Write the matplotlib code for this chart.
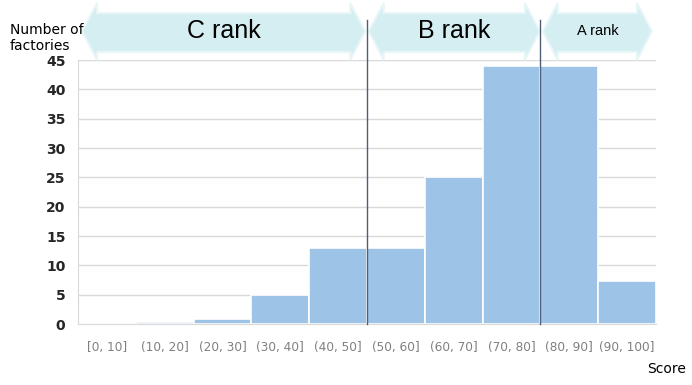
import matplotlib.pyplot as plt
import matplotlib.transforms as mtransforms
from matplotlib.patches import Polygon

# data
bin_labels = ["[0, 10]", "(10, 20]", "(20, 30]", "(30, 40]", "(40, 50]",
              "(50, 60]", "(60, 70]", "(70, 80]", "(80, 90]", "(90, 100]"]
bin_left = [0, 10, 20, 30, 40, 50, 60, 70, 80, 90]
factories = [0, 0.3, 0.9, 5, 13, 13, 25, 44, 44, 7.4]
rank_names = ["C rank", "B rank", "A rank"]
rank_start = [0.7, 50.3, 80.4]
rank_end = [49.7, 79.9, 99.3]
rank_fontsize = [18, 18, 10.5]
rank_lines = [50, 80]

fig = plt.figure(figsize=(6.92, 3.85), dpi=100)
ax = fig.add_axes([0.1127, 0.1584, 0.948 - 0.1127, 0.844 - 0.1584])

ax.bar(bin_left, factories, width=10, align="edge", color="#9dc3e6",
       edgecolor="white", linewidth=1.2, zorder=2)

ax.set_xlim(0, 100)
ax.set_ylim(0, 45)
ax.set_yticks(range(0, 46, 5))
ax.set_xticks([b + 5 for b in bin_left])
ax.set_xticklabels(bin_labels)
ax.tick_params(axis="x", length=0, pad=12, labelsize=8.7, labelcolor="#808080")
ax.tick_params(axis="y", length=0, pad=9, labelsize=10)
for t in ax.get_yticklabels():
    t.set_fontweight("bold")
    t.set_color("#262626")

ax.grid(axis="y", color="#d9d9d9", linewidth=1, zorder=0)
for side in ["top", "right"]:
    ax.spines[side].set_visible(False)
for side in ["left", "bottom"]:
    ax.spines[side].set_color("#d9d9d9")

# rank arrows above the plot
trans = mtransforms.blended_transform_factory(ax.transData, fig.transFigure)
head_top, body_top, mid, body_bot, head_bot = 0.992, 0.966, 0.919, 0.865, 0.844
head_len = 2.6
for name, x0, x1, fs in zip(rank_names, rank_start, rank_end, rank_fontsize):
    pts = [(x0, mid), (x0 + head_len, head_top), (x0 + head_len, body_top),
           (x1 - head_len, body_top), (x1 - head_len, head_top), (x1, mid),
           (x1 - head_len, head_bot), (x1 - head_len, body_bot),
           (x0 + head_len, body_bot), (x0 + head_len, head_bot)]
    poly = Polygon(pts, closed=True, transform=trans, facecolor="#d5eef2",
                   edgecolor="#e8f6f8", linewidth=1.5, clip_on=False, zorder=3)
    ax.add_patch(poly)
    ax.text((x0 + x1) / 2, mid, name, transform=trans, ha="center",
            va="center", fontsize=fs, color="black", zorder=4,
            family="Liberation Sans")

for x in rank_lines:
    ax.axvline(x, ymin=0, ymax=1.152, color="#4d5d7a", linewidth=1,
               clip_on=False, zorder=5)

fig.text(10 / 692, 1 - 38 / 385, "Number of\nfactories", fontsize=10,
         ha="left", va="center", linespacing=1.1)
fig.text(667 / 692, 1 - 369 / 385, "Score", fontsize=10, ha="center",
         va="center")

fig.savefig("out.png", dpi=100)
